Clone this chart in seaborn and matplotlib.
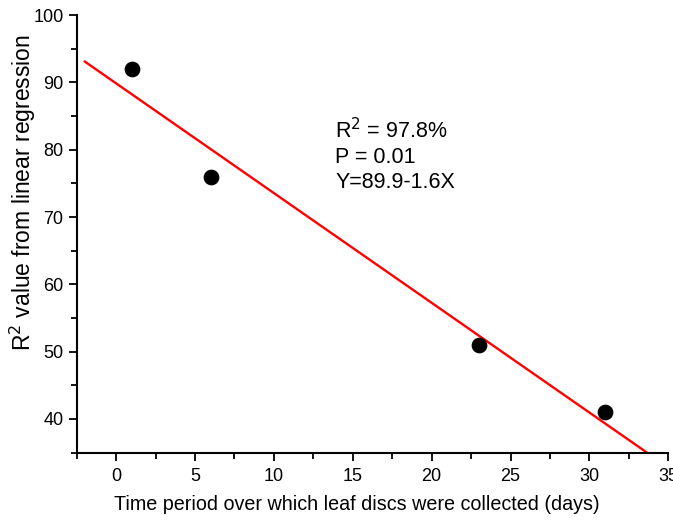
import numpy as np
import pandas as pd
import matplotlib
matplotlib.use("Agg")
import matplotlib.pyplot as plt
import seaborn as sns
from matplotlib.ticker import MultipleLocator

days = [1, 6, 23, 31]
r2_values = [92, 76, 51, 41]
line_x = [-2, 34]
annotation = "R$^2$ = 97.8%\nP = 0.01\nY=89.9-1.6X"

sns.set_theme(style="ticks")
plt.rcParams['font.family'] = ['Liberation Sans', 'DejaVu Sans']
plt.rcParams['text.color'] = 'black'
plt.rcParams['axes.labelcolor'] = 'black'

df = pd.DataFrame({"days": days, "r2": r2_values})
slope, intercept = np.polyfit(days, r2_values, 1)
fit = pd.DataFrame({"x": line_x, "y": [intercept + slope * v for v in line_x]})

fig = plt.figure(figsize=(6.73, 5.22), dpi=100)
ax = fig.add_axes([0.114, 0.133, 0.879, 0.838])

sns.lineplot(data=fit, x="x", y="y", color="red", linewidth=1.7, ax=ax)
sns.scatterplot(data=df, x="days", y="r2", color="black", s=110, edgecolor="black", ax=ax, zorder=3)

ax.set_xlim(-2.5, 35)
ax.set_ylim(35, 100)
ax.xaxis.set_major_locator(MultipleLocator(5))
ax.xaxis.set_minor_locator(MultipleLocator(2.5))
ax.yaxis.set_major_locator(MultipleLocator(10))
ax.yaxis.set_minor_locator(MultipleLocator(5))
ax.set_yticks([40, 50, 60, 70, 80, 90, 100])
ax.tick_params(which="major", direction="out", length=6, width=1.3, labelsize=13, color="black", labelcolor="black")
ax.tick_params(axis="x", which="major", pad=5)
ax.tick_params(which="minor", direction="out", length=4, width=1.3, color="black")

for s in ["top", "right"]:
    ax.spines[s].set_visible(False)
for s in ["left", "bottom"]:
    ax.spines[s].set_linewidth(1.5)
    ax.spines[s].set_color("black")

ax.set_xlabel("Time period over which leaf discs were collected (days)", fontsize=14.2)
ax.set_ylabel("R$^2$ value from linear regression", fontsize=16.5)
ax.xaxis.set_label_coords(0.474, -0.098)
ax.yaxis.set_label_coords(-0.066, 0.594)

ax.text(13.9, 84.7, annotation, fontsize=15.5, va="top", ha="left", linespacing=1.25)

fig.savefig("out.png", dpi=100)
